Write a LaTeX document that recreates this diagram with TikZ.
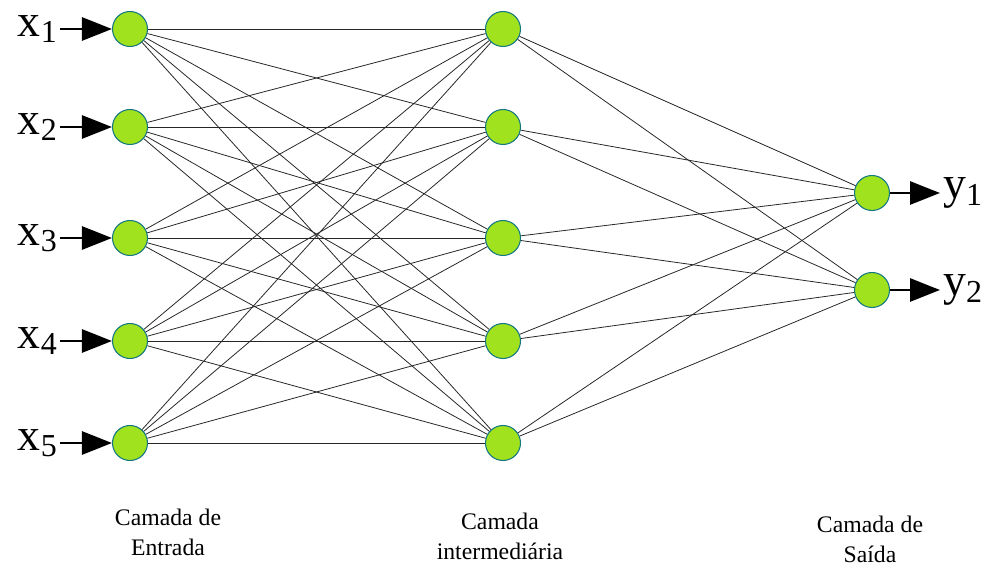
\documentclass[tikz,border=0pt]{standalone}
\usepackage{fontspec}
\setmainfont{Liberation Serif}
\newfontfamily\rotulo{Liberation Serif}
\usetikzlibrary{arrows.meta}
\definecolor{neurofill}{RGB}{160,226,30}
\definecolor{neuroedge}{RGB}{20,120,130}
\tikzset{
  neuron/.style={circle,draw=neuroedge,fill=neurofill,line width=0.6pt,minimum size=0.7cm,inner sep=0pt},
  sinal/.style={line width=1.6pt,-{Triangle[length=0.6cm,width=0.46cm]}},
  peso/.style={line width=0.45pt,black!85},
  varlb/.style={font=\rotulo\fontsize{26}{26}\selectfont,inner sep=0pt},
  camada/.style={font=\rotulo\fontsize{13.5}{17}\selectfont,align=center}
}
\begin{document}
\begin{tikzpicture}
\useasboundingbox (0,0) rectangle (19.84,-11.3);
\pgfmathsetmacro{\kxin}{2.6}
\pgfmathsetmacro{\kxhid}{10.06}
\pgfmathsetmacro{\kxout}{17.44}
% neuronios
\foreach \ki/\ky in {1/0.58,2/2.54,3/4.76,4/6.82,5/8.86}{
  \node[neuron](in\ki) at (\kxin,-\ky){};
  \node[neuron](hid\ki) at (\kxhid,-\ky){};
}
\foreach \ki/\ky in {1/3.86,2/5.8}{\node[neuron](out\ki) at (\kxout,-\ky){};}
% pesos
\foreach \ki in {1,...,5}{\foreach \kj in {1,...,5}{\draw[peso](in\ki)--(hid\kj);}}
\foreach \ki in {1,...,5}{\foreach \kj in {1,2}{\draw[peso](hid\ki)--(out\kj);}}
% entradas
\foreach \ki in {1,...,5}{
  \coordinate (xa\ki) at (1.2,0|-in\ki);
  \node[varlb,anchor=east](xl\ki) at ([xshift=-0.04cm]xa\ki){x\textsubscript{\ki}};
  \draw[sinal](xa\ki)--(in\ki);
}
% saidas
\foreach \ki in {1,2}{
  \coordinate (ya\ki) at (18.8,0|-out\ki);
  \node[varlb,anchor=west](yl\ki) at ([xshift=0.06cm]ya\ki){y\textsubscript{\ki}};
  \draw[sinal](out\ki)--(ya\ki);
}
% rotulos das camadas
\node[camada](cin) at (3.36,-10.64){Camada de\\Entrada};
\node[camada](chid) at (10.0,-10.72){Camada\\intermediária};
\node[camada](cout) at (17.4,-10.78){Camada de\\Saída};
\end{tikzpicture}
\end{document}
